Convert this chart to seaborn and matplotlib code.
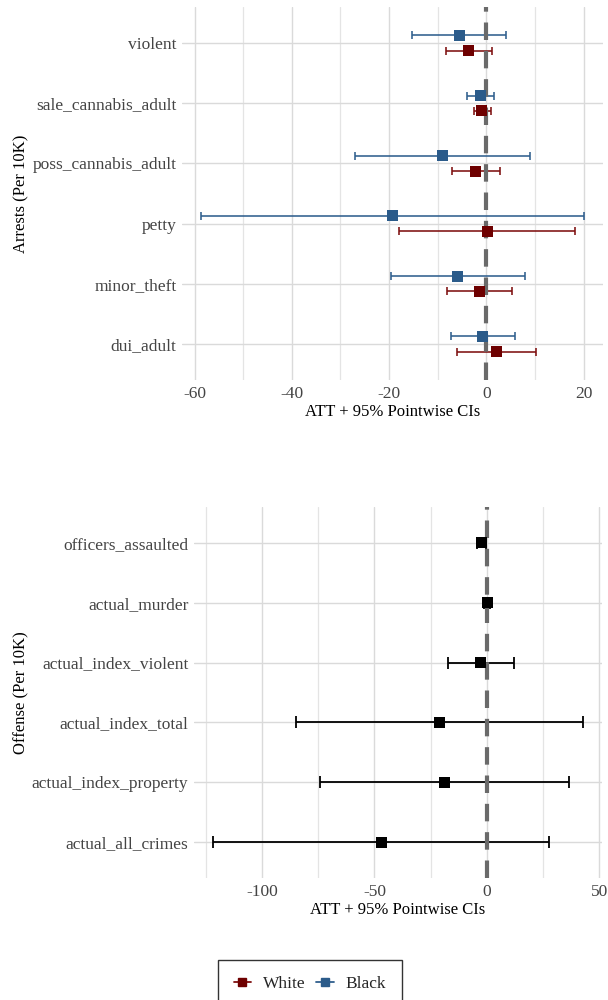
import numpy as np
import pandas as pd
import matplotlib
matplotlib.use("Agg")
import matplotlib.pyplot as plt
import seaborn as sns
from matplotlib.lines import Line2D
from matplotlib.ticker import MultipleLocator

# Arrest outcomes (listed top to bottom) with ATT and 95% pointwise CI bounds
arrest_outcomes = ["violent", "sale_cannabis_adult", "poss_cannabis_adult",
                   "petty", "minor_theft", "dui_adult"]
white_att = [-3.6, -1.0, -2.3, 0.2, -1.4, 2.1]
white_lo = [-8.3, -2.6, -7.1, -18.0, -8.1, -6.0]
white_hi = [1.1, 1.0, 2.8, 18.2, 5.3, 10.2]
black_att = [-5.6, -1.2, -9.1, -19.3, -5.9, -0.8]
black_lo = [-15.2, -3.9, -27.1, -58.7, -19.6, -7.3]
black_hi = [4.1, 1.5, 9.0, 20.1, 7.9, 6.0]

# Offense outcomes (listed top to bottom)
offense_outcomes = ["officers_assaulted", "actual_murder", "actual_index_violent",
                    "actual_index_total", "actual_index_property", "actual_all_crimes"]
offense_att = [-2.4, 0.2, -2.7, -21.0, -18.6, -46.9]
offense_lo = [-4.5, -1.2, -17.2, -84.9, -74.1, -122.0]
offense_hi = [-0.4, 1.6, 12.2, 43.0, 36.6, 27.8]

race_labels = ["White", "Black"]
race_colors = {"White": "#6E0000", "Black": "#2B5B8A"}
bar_colors = {"White": "#7F1010", "Black": "#2F5F8E"}

sns.set_theme(style="whitegrid")
plt.rcParams["font.family"] = ["Liberation Serif", "DejaVu Serif"]
plt.rcParams["axes.unicode_minus"] = False

W, H = 608, 1000
fig = plt.figure(figsize=(W / 100, H / 100), dpi=100)


def add_panel(left, top, right, bottom):
    return fig.add_axes([left / W, 1 - bottom / H, (right - left) / W, (bottom - top) / H])


def style_axes(ax, n, ylabel, major, minor, xlim):
    ax.set_facecolor("white")
    ax.set_ylim(n - 1 + 0.6, -0.6)
    ax.set_xlim(*xlim)
    ax.xaxis.set_major_locator(MultipleLocator(major))
    ax.xaxis.set_minor_locator(MultipleLocator(minor))
    ax.grid(which="major", axis="both", color="#DADADA", linewidth=1.0)
    ax.grid(which="minor", axis="x", color="#E4E4E4", linewidth=0.9)
    for s in ax.spines.values():
        s.set_visible(False)
    ax.tick_params(axis="both", which="both", length=0, labelsize=12.5,
                   labelcolor="#444444", pad=4)
    ax.set_xlabel("ATT + 95% Pointwise CIs", fontsize=12, color="black", labelpad=2)
    ax.set_ylabel(ylabel, fontsize=12, color="black", labelpad=2)
    ax.set_axisbelow(True)


def zero_line(ax):
    ax.axvline(0, color="#6A6A6A", linewidth=3.0, linestyle=(0, (4.2, 2.6)), zorder=3)


# ---- Top panel: arrests by race ----
ax1 = add_panel(182, 7, 603, 380)
arrest_df = pd.DataFrame({
    "outcome": arrest_outcomes * 2,
    "race": ["White"] * 6 + ["Black"] * 6,
    "att": white_att + black_att,
    "lo": white_lo + black_lo,
    "hi": white_hi + black_hi,
})
offset = {"White": 0.128, "Black": -0.128}
arrest_df["pos"] = [arrest_outcomes.index(o) + offset[r]
                    for o, r in zip(arrest_df["outcome"], arrest_df["race"])]

for race in race_labels:
    sub = arrest_df[arrest_df["race"] == race]
    ax1.errorbar(sub["att"], sub["pos"],
                 xerr=[sub["att"] - sub["lo"], sub["hi"] - sub["att"]],
                 fmt="none", ecolor=bar_colors[race], elinewidth=1.15,
                 capsize=2.7, capthick=1.15, zorder=2)
zero_line(ax1)
sns.scatterplot(data=arrest_df, x="att", y="pos", hue="race", hue_order=race_labels,
                palette=race_colors, marker="s", s=62, edgecolor="none",
                legend=False, zorder=4, ax=ax1)
ax1.set_yticks(range(len(arrest_outcomes)))
ax1.set_yticklabels(arrest_outcomes)
style_axes(ax1, len(arrest_outcomes), "Arrests (Per 10K)", 20, 10, (-62.6, 24.0))

# ---- Bottom panel: offenses ----
ax2 = add_panel(194, 507, 602, 878)
offense_df = pd.DataFrame({
    "outcome": offense_outcomes,
    "att": offense_att,
    "lo": offense_lo,
    "hi": offense_hi,
})
offense_df["pos"] = np.arange(len(offense_outcomes))
ax2.errorbar(offense_df["att"], offense_df["pos"],
             xerr=[offense_df["att"] - offense_df["lo"], offense_df["hi"] - offense_df["att"]],
             fmt="none", ecolor="black", elinewidth=1.3, capsize=4.3, capthick=1.3, zorder=2)
zero_line(ax2)
sns.scatterplot(data=offense_df, x="att", y="pos", color="black", marker="s", s=62,
                edgecolor="none", legend=False, zorder=4, ax=ax2)
ax2.set_yticks(range(len(offense_outcomes)))
ax2.set_yticklabels(offense_outcomes)
style_axes(ax2, len(offense_outcomes), "Offense (Per 10K)", 50, 25, (-130.3, 51.3))

# ---- Shared legend ----
handles = [Line2D([0], [0], color=bar_colors[r], linewidth=1.3, marker="s",
                  markersize=6, markerfacecolor=race_colors[r],
                  markeredgecolor=race_colors[r]) for r in race_labels]
leg = fig.legend(handles, race_labels, loc="upper left",
                 bbox_to_anchor=(218 / W, 1 - 960 / H), ncol=2, frameon=True,
                 fontsize=12.5, handlelength=1.0, columnspacing=0.6,
                 handletextpad=0.7, borderpad=0.9, borderaxespad=0,
                 fancybox=False)
leg.get_frame().set_edgecolor("black")
leg.get_frame().set_linewidth(1.0)

fig.savefig("out.png", dpi=100, facecolor="white")
